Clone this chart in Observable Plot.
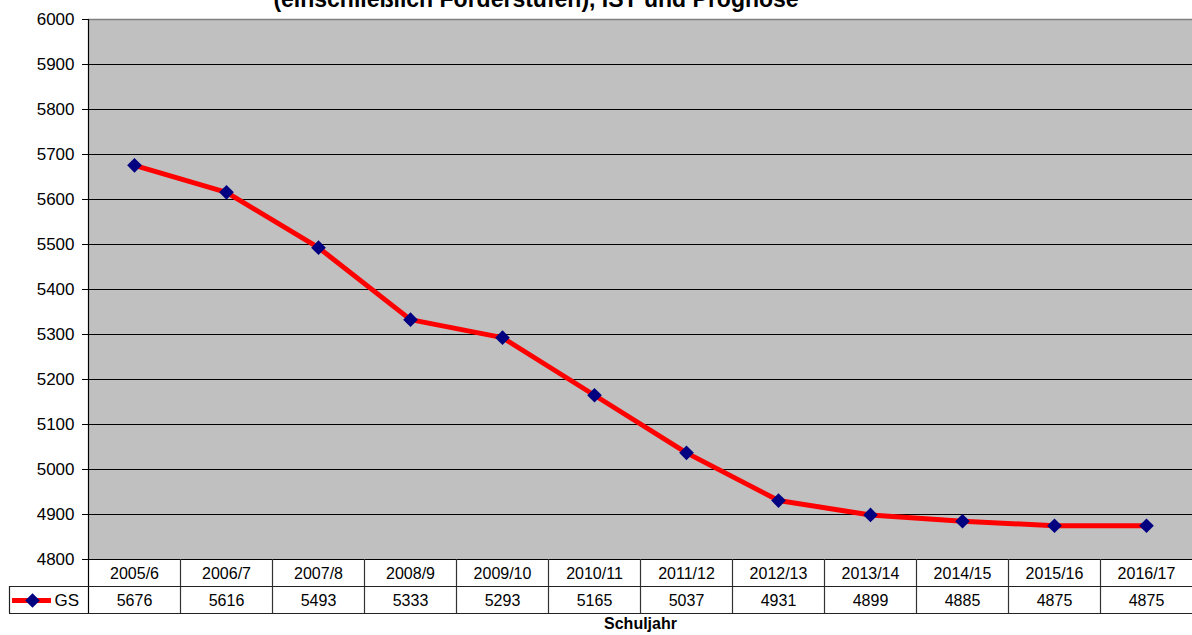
<!DOCTYPE html>
<html>
<head>
<meta charset="utf-8">
<script src="https://cdn.jsdelivr.net/npm/d3@7"></script>
<script src="https://cdn.jsdelivr.net/npm/@observablehq/plot@0.6"></script>
<style>
  html, body { margin: 0; padding: 0; background: #fff; overflow: hidden; }
  #wrap { position: relative; width: 1192px; height: 635px; }
  #wrap svg { position: absolute; left: 0; top: 0; }
  #title { position: absolute; left: 0; width: 1072px; top: -14px; text-align: center;
           font: bold 23px "Liberation Sans", Arial, sans-serif; white-space: nowrap; color: #000; }
</style>
</head>
<body>
<div id="wrap"></div>
<script>
const titleText = "(einschließlich Förderstufen), IST und Prognose";
const years = ["2005/6","2006/7","2007/8","2008/9","2009/10","2010/11","2011/12","2012/13","2013/14","2014/15","2015/16","2016/17"];
const gs = [5676, 5616, 5493, 5333, 5293, 5165, 5037, 4931, 4899, 4885, 4875, 4875];
const yTicks = [4800, 4900, 5000, 5100, 5200, 5300, 5400, 5500, 5600, 5700, 5800, 5900, 6000];
const seriesName = "GS";
const xLabel = "Schuljahr";

const data = years.map((s, i) => ({s, v: gs[i]}));

const W = 1192, H = 635, ML = 88, MT = 19, MB = 76;
const bw = (W - ML) / years.length;
// table rows: values below the y domain extend downward through the linear y scale
const pxPerUnit = (H - MB - MT) / (yTicks[yTicks.length - 1] - yTicks[0]);
const row1 = yTicks[0] - 27 / pxPerUnit;
const row2 = yTicks[0] - 54 / pxPerUnit;
const font = "'Liberation Sans', Arial, sans-serif";

const plot = Plot.plot({
  width: W, height: H,
  marginLeft: ML, marginRight: 0, marginTop: MT, marginBottom: MB,
  style: {fontFamily: font, fontSize: "17px", background: "transparent", color: "#000", overflow: "visible"},
  x: {type: "band", domain: years, padding: 0, axis: null},
  y: {domain: [yTicks[0], yTicks[yTicks.length - 1]], axis: null},
  marks: [
    Plot.frame({fill: "#c0c0c0", stroke: null}),
    Plot.ruleY(yTicks.slice(0, -1), {stroke: "#000", strokeWidth: 1}),
    Plot.ruleY([yTicks[yTicks.length - 1]], {stroke: "#808080", strokeWidth: 1.5}),
    Plot.axisY(yTicks, {tickSize: 6, tickPadding: 8, fontSize: 17, label: null, tickFormat: d => String(d), stroke: "#000"}),
    Plot.ruleX([years[0]], {dx: -bw / 2, y1: row2, y2: yTicks[yTicks.length - 1], stroke: "#000", strokeWidth: 1.2}),
    // table grid
    Plot.ruleX(years.slice(1), {dx: -bw / 2, y1: row2, y2: yTicks[0], stroke: "#333", strokeWidth: 1.2}),
    Plot.ruleY([row1, row2], {insetLeft: -79, stroke: "#222", strokeWidth: 1.2}),
    Plot.ruleX([years[0]], {dx: -bw / 2 - 79, y1: row2, y2: row1, stroke: "#222", strokeWidth: 1.2}),
    // series
    Plot.line(data, {x: "s", y: "v", stroke: "#ff0000", strokeWidth: 5, curve: "linear"}),
    Plot.dot(data, {x: "s", y: "v", symbol: "diamond2", r: 6.6, fill: "#000080", stroke: null}),
    // table text
    Plot.text(years, {x: d => d, y: () => yTicks[0], dy: 14, fontSize: 16, fill: "#000"}),
    Plot.text(data, {x: "s", y: () => row1, dy: 14, text: d => String(d.v), fontSize: 16, fill: "#000"}),
    // legend in table
    Plot.ruleY([row1], {dy: 14, insetLeft: -76, insetRight: (W - ML) + 37, stroke: "#ff0000", strokeWidth: 5}),
    Plot.dot([seriesName], {y: () => row1, dy: 14, frameAnchor: "left", dx: -56, symbol: "diamond2", r: 6.6, fill: "#000080", stroke: null}),
    Plot.text([seriesName], {y: () => row1, dy: 14, frameAnchor: "left", dx: -34, textAnchor: "start", fontSize: 17, fill: "#000"}),
    // x label
    Plot.text([xLabel], {frameAnchor: "bottom", dy: 69, fontWeight: "bold", fontSize: 16, fill: "#000"})
  ]
});

const wrap = document.getElementById("wrap");
wrap.appendChild(plot);
const t = document.createElement("div");
t.id = "title";
t.textContent = titleText;
wrap.appendChild(t);
</script>
</body>
</html>
